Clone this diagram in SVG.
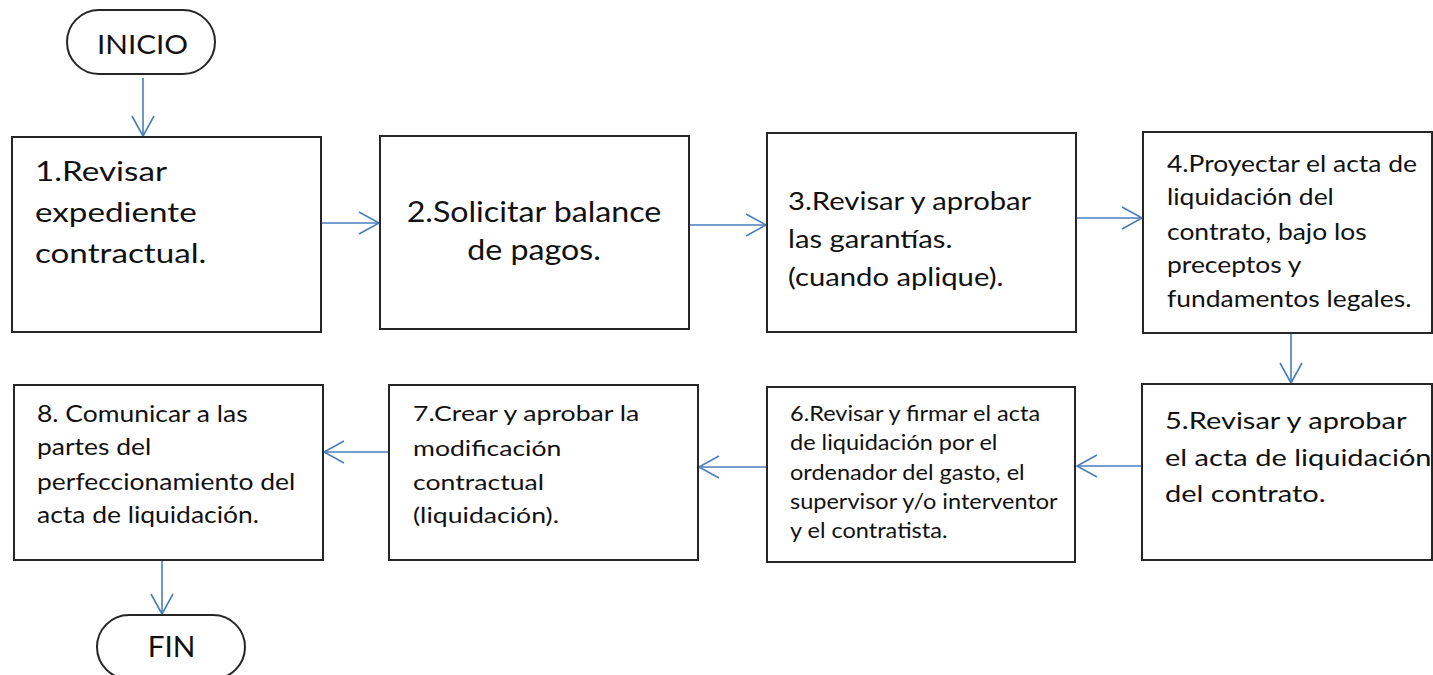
<svg xmlns="http://www.w3.org/2000/svg" width="1433" height="675" viewBox="0 0 1433 675">
<defs>
<marker id="ah" markerUnits="userSpaceOnUse" markerWidth="26" markerHeight="26" refX="22" refY="13" orient="auto">
<path d="M2,2 L22,13 L2,24" fill="none" stroke="#4a7ebb" stroke-width="1.6"/>
</marker>
<style>
.box{fill:#fff;stroke:#262626;stroke-width:2}
.term{fill:#fff;stroke:#262626;stroke-width:2}
.t{font-family:Lato,"Open Sans",sans-serif;fill:#111}
.c{stroke:#4a7ebb;stroke-width:1.6;fill:none;marker-end:url(#ah)}
</style>
</defs>
<rect width="1433" height="675" fill="#fff"/>
<g id="connectors">
<line class="c" x1="143" y1="78" x2="143" y2="136"/>
<line class="c" x1="321" y1="223" x2="379" y2="223"/>
<line class="c" x1="689" y1="225" x2="766" y2="225"/>
<line class="c" x1="1073" y1="218" x2="1142" y2="218"/>
<line class="c" x1="1291" y1="333" x2="1291" y2="383"/>
<line class="c" x1="1142" y1="466" x2="1077" y2="466"/>
<line class="c" x1="767" y1="467" x2="699" y2="467"/>
<line class="c" x1="389" y1="452" x2="324" y2="452"/>
<line class="c" x1="162" y1="560" x2="162" y2="614"/>
</g>
<g id="inicio">
<rect class="term" x="67" y="10" width="148" height="64" rx="32"/>
<g transform="translate(142.5,0) scale(1.1,1)"><text class="t" x="0" y="54" font-size="27" text-anchor="middle">INICIO</text></g>
</g>
<g id="n1">
<rect class="box" x="12" y="137" width="309" height="195"/>
<g transform="translate(35,0) scale(1.23,1)" class="t" font-size="27">
<text x="0" y="181">1.Revisar</text>
<text x="0" y="222">expediente</text>
<text x="0" y="263">contractual.</text>
</g>
</g>
<g id="n2">
<rect class="box" x="380" y="136" width="309" height="193"/>
<g transform="translate(534,0) scale(1.15,1)" class="t" font-size="28" text-anchor="middle">
<text x="0" y="222">2.Solicitar balance</text>
<text x="0" y="260">de pagos.</text>
</g>
</g>
<g id="n3">
<rect class="box" x="767" y="133" width="309" height="199"/>
<g transform="translate(788,0) scale(1.17,1)" class="t" font-size="25">
<text x="0" y="210">3.Revisar y aprobar</text>
<text x="0" y="248">las garantías.</text>
<text x="0" y="286">(cuando aplique).</text>
</g>
</g>
<g id="n4">
<rect class="box" x="1143" y="132" width="289" height="201"/>
<g transform="translate(1167,0) scale(1.15,1)" class="t" font-size="23">
<text x="0" y="172">4.Proyectar el acta de</text>
<text x="0" y="205">liquidación del</text>
<text x="0" y="240">contrato, bajo los</text>
<text x="0" y="273">preceptos y</text>
<text x="0" y="307">fundamentos legales.</text>
</g>
</g>
<g id="n5">
<rect class="box" x="1142" y="384" width="290" height="176"/>
<g transform="translate(1165,0) scale(1.21,1)" class="t" font-size="24">
<text x="0" y="429">5.Revisar y aprobar</text>
<text x="0" y="466">el acta de liquidación</text>
<text x="0" y="502">del contrato.</text>
</g>
</g>
<g id="n6">
<rect class="box" x="767" y="387" width="308" height="175"/>
<g transform="translate(790,0) scale(1.12,1)" class="t" font-size="21">
<text x="0" y="421">6.Revisar y firmar el acta</text>
<text x="0" y="450">de liquidación por el</text>
<text x="0" y="480">ordenador del gasto, el</text>
<text x="0" y="509">supervisor y/o interventor</text>
<text x="0" y="538">y el contratista.</text>
</g>
</g>
<g id="n7">
<rect class="box" x="389" y="385" width="309" height="175"/>
<g transform="translate(413,0) scale(1.21,1)" class="t" font-size="22">
<text x="0" y="421">7.Crear y aprobar la</text>
<text x="0" y="456">modificación</text>
<text x="0" y="490">contractual</text>
<text x="0" y="523">(liquidación).</text>
</g>
</g>
<g id="n8">
<rect class="box" x="14" y="385" width="309" height="175"/>
<g transform="translate(37,0) scale(1.15,1)" class="t" font-size="23">
<text x="0" y="422">8. Comunicar a las</text>
<text x="0" y="455">partes del</text>
<text x="0" y="490">perfeccionamiento del</text>
<text x="0" y="523">acta de liquidación.</text>
</g>
</g>
<g id="fin">
<rect class="term" x="97" y="615" width="148" height="64" rx="32"/>
<g transform="translate(171.5,0) scale(1.06,1)"><text class="t" x="0" y="657" font-size="28" text-anchor="middle">FIN</text></g>
</g>
</svg>
